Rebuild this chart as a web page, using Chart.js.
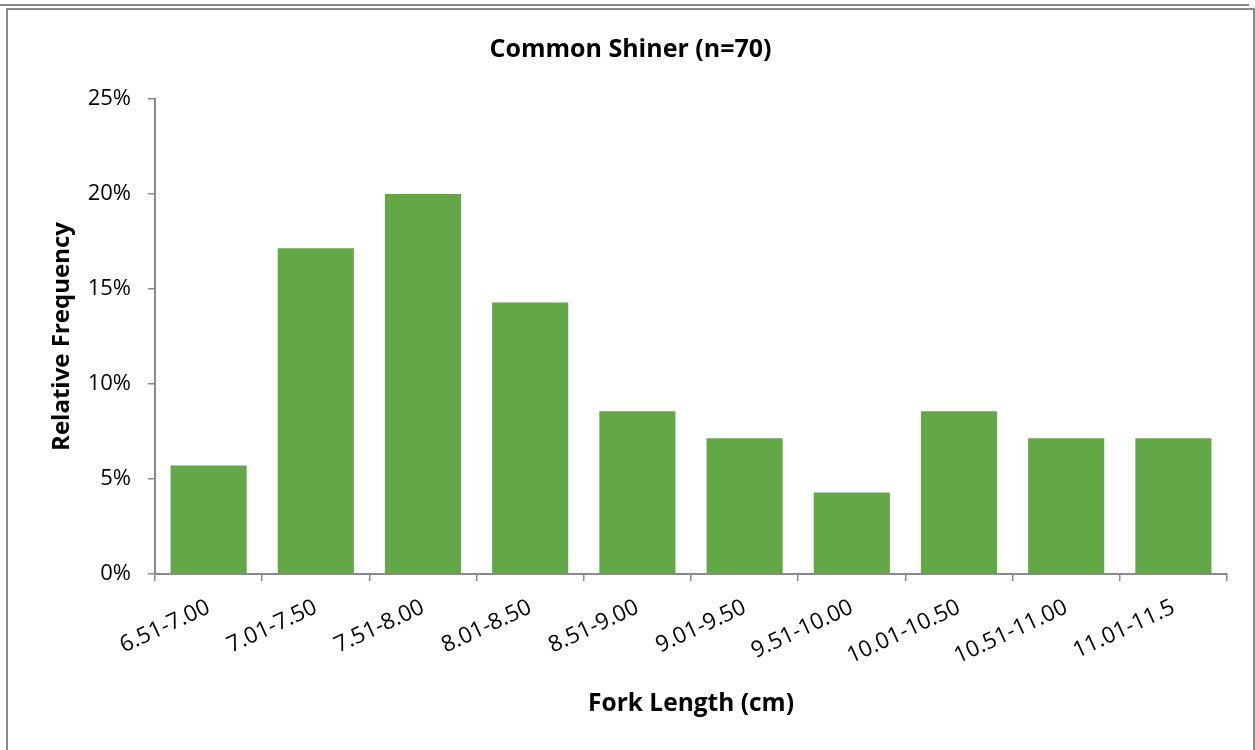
<!DOCTYPE html>
<html>
<head>
<meta charset="utf-8">
<script src="https://cdn.jsdelivr.net/npm/chart.js@4"></script>
<style>
  body { margin: 0; background: #fff; }
  #topline { position: absolute; left: 0; top: 4px; width: 1249px; height: 2px; background: #8a8a8a; }
  #frame { position: absolute; left: 6px; top: 8px; width: 1245px; height: 760px; border: 2px solid #8a8a8a; }
  #wrap { position: absolute; left: 8px; top: 10px; width: 1245px; height: 740px; }
</style>
</head>
<body>
<div id="topline"></div>
<div id="frame"></div>
<div id="wrap"><canvas id="grafico"></canvas></div>
<script>
// fork length classes and relative frequency (%), n = 70
const classes = ['6.51-7.00', '7.01-7.50', '7.51-8.00', '8.01-8.50', '8.51-9.00',
                 '9.01-9.50', '9.51-10.00', '10.01-10.50', '10.51-11.00', '11.01-11.5'];
const relFreq = [5.71, 17.14, 20.00, 14.29, 8.57, 7.14, 4.29, 8.57, 7.14, 7.14];
const yTicks = [0, 5, 10, 15, 20, 25];

const font = "'Open Sans', 'Noto Sans', sans-serif";
const grey = '#8a8a8a';

const ctx = document.getElementById('grafico');

new Chart(ctx, {
    type: 'bar',
    data: {
        labels: classes,
        datasets: [{
            label: 'Relative Frequency',
            data: relFreq,
            backgroundColor: '#63a846',
            barPercentage: 0.71,
            categoryPercentage: 1
        }]
    },
    options: {
        responsive: true,
        maintainAspectRatio: false,
        animation: false,
        layout: { padding: { left: 26, right: 26, top: 0, bottom: 0 } },
        plugins: {
            legend: { display: false },
            tooltip: { enabled: false },
            title: {
                display: true,
                text: 'Common Shiner (n=70)',
                color: '#000',
                font: { family: font, size: 25, weight: 'bold' },
                padding: { top: 25, bottom: 34 }
            }
        },
        scales: {
            x: {
                grid: { display: true, drawOnChartArea: false, drawTicks: true, tickLength: 7, color: grey, lineWidth: 1.5 },
                border: { color: grey, width: 2 },
                ticks: { color: '#000', font: { family: font, size: 22.5 }, maxRotation: 25, minRotation: 25, padding: 13 },
                title: { display: true, text: 'Fork Length (cm)', color: '#000', font: { family: font, size: 24.5, weight: 'bold' }, padding: { top: 14, bottom: 31 } },
                afterFit: s => { s.height = 176; }
            },
            y: {
                min: 0,
                max: 25,
                afterBuildTicks: s => { s.ticks = yTicks.map(v => ({ value: v })); },
                grid: { display: true, drawOnChartArea: false, drawTicks: true, tickLength: 7, color: grey, lineWidth: 1.5 },
                border: { color: grey, width: 2 },
                ticks: { color: '#000', font: { family: font, size: 22 }, padding: 17, callback: v => v + '%' },
                title: { display: true, text: 'Relative Frequency', color: '#000', font: { family: font, size: 24, weight: 'bold' }, padding: { top: 14, bottom: 14 } },
                afterFit: s => { s.width = 121; }
            }
        }
    }
});
</script>
</body>
</html>
